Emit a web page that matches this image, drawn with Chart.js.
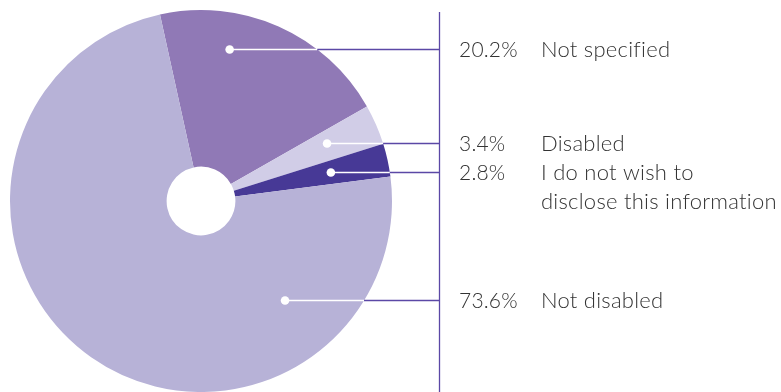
<!DOCTYPE html>
<html>
<head>
<meta charset="utf-8">
<script src="https://cdn.jsdelivr.net/npm/chart.js@4/dist/chart.umd.min.js"></script>
<style>
  html, body { margin: 0; padding: 0; background: #fff; }
  #wrap { position: relative; width: 781px; height: 392px; }
</style>
</head>
<body>
<div id="wrap"><canvas id="pie" width="781" height="392"></canvas></div>
<script>
const categories = ['Not specified', 'Disabled', 'I do not wish to\ndisclose this information', 'Not disabled']
const shares = [20.2, 3.4, 2.8, 73.6]
const sliceColours = ['#9079b6', '#d1cde7', '#473996', '#b7b2d7']

// label rows, measured from the pie centre in units of the radius
const rowDy = [-0.797, -0.302, -0.151, 0.516]
// where each dot sits on its row (fraction of radius from centre)
const dotDx = [0.15, 0.66, 0.68, 0.44]

const RULE_X = 439.5
const PCT_X = 459
const TEXT_X = 541
const LINE_GAP = 28.5

const calloutPlugin = {
  id: 'callouts',
  afterDatasetsDraw( chart ) {
    const ctx = chart.ctx
    const arc = chart.getDatasetMeta( 0 ).data[0]
    const cx = arc.x
    const cy = arc.y
    const r = arc.outerRadius

    ctx.save()

    // vertical rule
    ctx.strokeStyle = '#5b48a6'
    ctx.lineWidth = 1.3
    ctx.beginPath()
    ctx.moveTo( RULE_X, 12 )
    ctx.lineTo( RULE_X, chart.height )
    ctx.stroke()

    shares.forEach( ( v, i ) => {
      const y = Math.round( cy + rowDy[i] * r ) + 0.5
      const dx = cx + dotDx[i] * r
      const edge = cx + Math.sqrt( Math.max( 0, r * r - ( y - cy ) * ( y - cy ) ) )

      // white leader inside the pie, purple outside
      ctx.lineWidth = 1.5
      ctx.strokeStyle = '#ffffff'
      ctx.beginPath()
      ctx.moveTo( dx, y )
      ctx.lineTo( edge, y )
      ctx.stroke()

      ctx.lineWidth = 1.3
      ctx.strokeStyle = '#5b48a6'
      ctx.beginPath()
      ctx.moveTo( edge, y )
      ctx.lineTo( RULE_X, y )
      ctx.stroke()

      ctx.fillStyle = '#ffffff'
      ctx.beginPath()
      ctx.arc( dx, y, 4.3, 0, Math.PI * 2 )
      ctx.fill()

      // texts
      ctx.fillStyle = '#333333'
      ctx.textBaseline = 'alphabetic'
      ctx.textAlign = 'left'
      ctx.font = '300 21px Lato'
      ctx.letterSpacing = '0.2px'
      ctx.fillText( v.toFixed( 1 ) + '%', PCT_X, y + 7.5 )
      ctx.font = '300 22px Lato'
      ctx.letterSpacing = '0.25px'
      categories[i].split( '\n' ).forEach( ( line, k ) => {
        ctx.fillText( line, TEXT_X, y + 7.5 + k * LINE_GAP )
      } )
    } )

    ctx.restore()
  }
}

new Chart( document.getElementById( 'pie' ), {
  type: 'doughnut',
  data: {
    labels: categories,
    datasets: [
      {
        data: shares,
        backgroundColor: sliceColours,
        borderWidth: 0,
      },
    ],
  },
  options: {
    responsive: false,
    animation: false,
    events: [],
    rotation: -12.4,
    cutout: '18%',
    layout: {
      padding: { left: 10, top: 10, right: 389, bottom: 0 },
    },
    plugins: {
      legend: { display: false },
      tooltip: { enabled: false },
    },
  },
  plugins: [calloutPlugin],
} )
</script>
</body>
</html>
